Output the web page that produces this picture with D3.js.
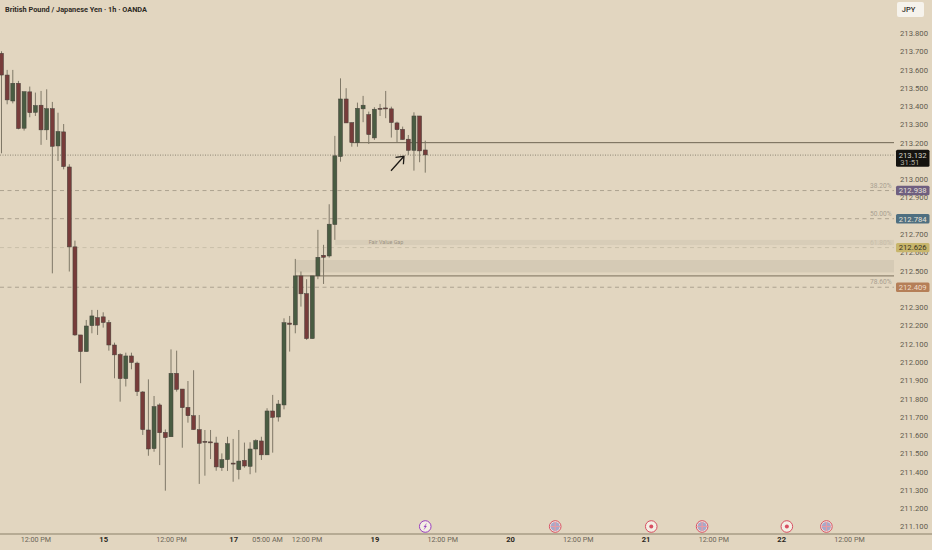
<!DOCTYPE html>
<html>
<head>
<meta charset="utf-8">
<script src="https://cdn.jsdelivr.net/npm/d3@7"></script>
<style>
html, body { margin: 0; padding: 0; background: #e2d6c0; overflow: hidden; }
text { font-family: Roboto, sans-serif; }
.axis .domain, .axis line { display: none; }
</style>
</head>
<body>
<svg id="vis"></svg>
<script>
var w = 932, h = 550;

// candles, 1h GBP/JPY
var opens = [213.689,213.570,213.428,213.525,213.279,213.478,213.366,213.405,213.270,213.386,213.182,213.259,213.067,212.630,212.148,212.057,212.199,212.243,212.247,212.216,212.093,212.041,211.909,212.033,211.994,211.836,211.628,211.526,211.765,211.615,211.591,211.938,211.852,211.752,211.706,211.630,211.566,211.563,211.557,211.422,211.466,211.447,211.411,211.462,211.429,211.524,211.568,211.492,211.732,211.699,211.765,212.213,212.203,212.471,212.374,212.128,212.471,212.584,212.580,212.752,213.124,213.439,213.310,213.200,213.385,213.354,213.226,213.388,213.390,213.385,213.308,213.273,213.219,213.158,213.346,213.160];
var highs = [213.700,213.598,213.598,213.538,213.479,213.507,213.474,213.483,213.492,213.423,213.364,213.302,213.082,212.664,212.148,212.230,212.285,212.285,212.272,212.230,212.106,212.048,212.051,212.051,212.002,211.841,211.905,211.814,211.774,211.631,212.069,212.062,211.852,211.896,211.955,211.710,211.628,211.628,211.591,211.500,211.591,211.579,211.628,211.559,211.561,211.577,211.591,211.747,211.820,211.792,212.239,212.252,212.564,212.495,212.453,212.471,212.723,212.641,212.863,213.237,213.552,213.498,213.310,213.419,213.456,213.370,213.394,213.412,213.483,213.397,213.315,213.288,213.242,213.366,213.346,213.211];
var lows = [213.142,213.410,213.415,213.273,213.266,213.339,213.346,213.188,213.215,212.485,213.100,213.054,212.495,212.143,211.884,212.057,212.157,212.148,212.188,212.062,211.911,211.783,211.866,211.960,211.814,211.601,211.487,211.509,211.436,211.296,211.591,211.838,211.531,211.668,211.630,211.333,211.378,211.469,211.405,211.404,211.404,211.345,211.358,211.422,211.386,211.395,211.464,211.492,211.504,211.674,211.741,212.057,212.157,212.303,212.121,212.128,212.453,212.427,212.571,212.668,213.096,213.308,213.178,213.178,213.312,213.193,213.215,213.346,213.334,213.228,213.200,213.217,213.133,213.047,213.093,213.036];
var closes = [213.570,213.434,213.525,213.277,213.479,213.364,213.403,213.270,213.386,213.180,213.261,213.069,212.630,212.148,212.057,212.197,212.252,212.201,212.216,212.093,212.039,211.909,212.033,211.997,211.838,211.630,211.524,211.756,211.613,211.586,211.938,211.850,211.750,211.706,211.630,211.555,211.563,211.559,211.426,211.466,211.553,211.444,211.458,211.431,211.524,211.570,211.492,211.732,211.697,211.770,212.215,212.206,212.471,212.373,212.128,212.471,212.573,212.573,212.754,213.128,213.439,213.308,213.200,213.388,213.405,213.244,213.383,213.383,213.388,213.310,213.271,213.217,213.158,213.346,213.155,213.133];

// price axis
var yTicks = [213.8,213.7,213.6,213.5,213.4,213.3,213.2,213.1,213.0,212.9,212.8,212.7,212.6,212.5,212.4,212.3,212.2,212.1,212.0,211.9,211.8,211.7,211.6,211.5,211.4,211.3,211.2,211.1];

// time axis, positions are bar numbers
var xTickBars = [6,18,30,41,47,54,66,78,90,102,114,126,138,150];
var xTickLabels = ["12:00 PM","15","12:00 PM","17","05:00 AM","12:00 PM","19","12:00 PM","20","12:00 PM","21","12:00 PM","22","12:00 PM"];

// fib levels
var fibPrices = [212.938,212.784,212.626,212.409];
var fibNames = ["38.20%","50.00%","61.80%","78.60%"];
var fibColors = ["#6f5f80","#4f6f80","#c8b66c","#b57f58"];
var fibTextColors = ["#e8e2d8","#e8e2d8","#3a3420","#f0dcc8"];
var fibNameOpacity = [1,1,0.35,1];

var lastPrice = 213.132;
var countdown = "31:51";
var keyLevel = 213.2, keyLevelBar = 62;
var zoneTop = 212.558, zoneBottom = 212.49, zoneBar = 52, zoneLine = 212.471;
var fvgTop = 212.668, fvgBottom = 212.64, fvgBar = 59;

// calendar events along the bottom
var eventBars = [75,98,115,124,139,146];
var eventKinds = ["bolt","uk","dot","uk","dot","uk"];

var x = d3.scaleLinear().domain([0,150]).range([1.5,849]);
var y = d3.scaleLinear().domain([213.8,211.1]).range([33,526.5]);
var plotRight = 894;
var barW = 4;

var svg = d3.select("#vis").attr("width", w).attr("height", h);
var up = function(i){ return closes[i] >= opens[i]; };
var bars = d3.range(opens.length);

// zones under the candles
svg.append("rect").attr("x", x(zoneBar)).attr("y", y(zoneTop))
    .attr("width", plotRight - x(zoneBar)).attr("height", y(zoneBottom) - y(zoneTop))
    .attr("fill", "#d5cab5");
svg.append("rect").attr("x", x(fvgBar)).attr("y", y(fvgTop))
    .attr("width", plotRight - x(fvgBar)).attr("height", y(fvgBottom) - y(fvgTop))
    .attr("fill", "#d8cdb8");
svg.append("text").attr("x", 386).attr("y", y(fvgTop) + 4.2)
    .attr("text-anchor", "middle").attr("font-size", 5.4).attr("fill", "#9c9384")
    .text("Fair Value Gap");

// fib lines
svg.selectAll("line.fib").data(fibPrices).enter().append("line")
    .attr("class", "fib")
    .attr("x1", 0).attr("x2", plotRight)
    .attr("y1", function(d){ return y(d); }).attr("y2", function(d){ return y(d); })
    .attr("stroke", "#ada390")
    .attr("stroke-opacity", function(d,i){ return i==2 ? 0.45 : 1; })
    .attr("stroke-width", 1)
    .attr("stroke-dasharray", "4 3.5");
svg.selectAll("text.fibname").data(fibPrices).enter().append("text")
    .attr("class", "fibname")
    .attr("x", 891.5)
    .attr("y", function(d){ return y(d) - 3; })
    .attr("text-anchor", "end").attr("font-size", 6.6).attr("fill", "#a89f90")
    .attr("fill-opacity", function(d,i){ return fibNameOpacity[i]; })
    .text(function(d,i){ return fibNames[i]; });

// current price, dotted
svg.append("line").attr("x1", 0).attr("x2", plotRight)
    .attr("y1", y(lastPrice)).attr("y2", y(lastPrice))
    .attr("stroke", "#8d8674").attr("stroke-width", 1).attr("stroke-dasharray", "1 1.5");

// key levels
svg.append("line").attr("x1", x(keyLevelBar)).attr("x2", plotRight)
    .attr("y1", y(keyLevel)).attr("y2", y(keyLevel))
    .attr("stroke", "#6f6554").attr("stroke-width", 1);
svg.append("line").attr("x1", x(zoneBar)).attr("x2", plotRight)
    .attr("y1", y(zoneLine)).attr("y2", y(zoneLine))
    .attr("stroke", "#7c705c").attr("stroke-width", 1);

// wicks and bodies
svg.selectAll("line.wick").data(bars).enter().append("line")
    .attr("class", "wick")
    .attr("x1", function(i){ return x(i); }).attr("x2", function(i){ return x(i); })
    .attr("y1", function(i){ return y(highs[i]); }).attr("y2", function(i){ return y(lows[i]); })
    .attr("stroke", "#7f7867").attr("stroke-width", 1);
svg.selectAll("rect.body").data(bars).enter().append("rect")
    .attr("class", "body")
    .attr("x", function(i){ return x(i) - barW/2; })
    .attr("width", barW)
    .attr("y", function(i){ return y(Math.max(opens[i], closes[i])); })
    .attr("height", function(i){ return Math.max(1, Math.abs(y(opens[i]) - y(closes[i]))); })
    .attr("fill", function(i){ return up(i) ? "#495c42" : "#773c3a"; })
    .attr("stroke", "#45413a").attr("stroke-width", 0.5);

// arrow drawn on the chart
svg.append("path").attr("d", "M391 170.7 L404 156.3 M395.5 157.3 L404 156.3 L403.4 164.3")
    .attr("fill", "none").attr("stroke", "#1d1a16").attr("stroke-width", 1.3);

// bottom axis
svg.append("line").attr("x1", 0).attr("x2", w).attr("y1", 534).attr("y2", 534)
    .attr("stroke", "#8a8068").attr("stroke-width", 1);
var xAxis = d3.axisBottom(x).tickValues(xTickBars)
    .tickSize(0).tickPadding(0)
    .tickFormat(function(d,i){ return xTickLabels[i]; });
var gx = svg.append("g").attr("class", "axis").attr("transform", "translate(0,537)").call(xAxis);
gx.selectAll("text")
    .attr("font-size", function(d,i){ return isNaN(xTickLabels[i]) ? 7.2 : 7.6; })
    .attr("font-weight", function(d,i){ return isNaN(xTickLabels[i]) ? 400 : 700; })
    .attr("fill", function(d,i){ return isNaN(xTickLabels[i]) ? "#6b6557" : "#2a2620"; })
    .attr("font-family", "Roboto, sans-serif");

// price axis
var yAxis = d3.axisRight(y).tickValues(yTicks).tickSize(0).tickPadding(0)
    .tickFormat(d3.format(".3f"));
var gy = svg.append("g").attr("class", "axis").attr("transform", "translate(900,0)").call(yAxis);
gy.selectAll("text").attr("font-size", 7.7).attr("fill", "#5f5a4e")
    .attr("font-family", "Roboto, sans-serif");

// price tags
var tags = svg.selectAll("g.tag").data(fibPrices).enter().append("g").attr("class", "tag")
    .attr("transform", function(d){ return "translate(896," + y(d) + ")"; });
tags.append("rect").attr("x", 0).attr("y", -4.7).attr("width", 33.5).attr("height", 9.4).attr("rx", 1.5)
    .attr("fill", function(d,i){ return fibColors[i]; });
tags.append("text").attr("x", 16.7).attr("y", 2.8).attr("text-anchor", "middle").attr("font-size", 7.7)
    .attr("fill", function(d,i){ return fibTextColors[i]; })
    .text(function(d){ return d.toFixed(3); });

var lastTag = svg.append("g").attr("transform", "translate(896," + y(lastPrice) + ")");
lastTag.append("rect").attr("x", 0).attr("y", -5.4).attr("width", 33.5).attr("height", 17).attr("rx", 1.5).attr("fill", "#15130f");
lastTag.append("text").attr("x", 16.7).attr("y", 2.6).attr("text-anchor", "middle").attr("font-size", 7.7)
    .attr("fill", "#d8d4ca").text(lastPrice.toFixed(3));
lastTag.append("text").attr("x", 4.3).attr("y", 9.6).attr("font-size", 7.7)
    .attr("fill", "#b0aca2").text(countdown);

// calendar icons
var ev = svg.selectAll("g.ev").data(eventBars).enter().append("g").attr("class", "ev")
    .attr("transform", function(d){ return "translate(" + x(d) + ",526.5)"; });
ev.append("circle").attr("r", 5.8).attr("fill", "#f4eee4")
    .attr("stroke", function(d,i){ return eventKinds[i]=="bolt" ? "#9a3fc0" : "#d84f62"; }).attr("stroke-width", 1);
ev.each(function(d,i){
    var g = d3.select(this);
    if(eventKinds[i]=="dot"){
        g.append("circle").attr("r", 2).attr("fill", "#d84f62");
    } else if(eventKinds[i]=="bolt"){
        g.append("path").attr("d", "M1.2 -3 L-1.4 0.5 L0.2 0.5 L-1.2 3 L1.4 -0.5 L-0.2 -0.5 Z")
            .attr("fill", "#9a3fc0").attr("stroke", "#9a3fc0").attr("stroke-width", 0.3);
    } else {
        g.append("circle").attr("r", 4.6).attr("fill", "#a9a8c8");
        g.append("path").attr("d", "M-4.6 0 H4.6 M0 -4.6 V4.6").attr("stroke", "#e89aa4").attr("stroke-width", 1.2);
    }
});

// header
svg.append("text").attr("x", 5).attr("y", 12).attr("font-size", 7.35).attr("font-weight", 700)
    .attr("fill", "#2f2b25").text("British Pound / Japanese Yen · 1h · OANDA");

// currency button
svg.append("rect").attr("x", 897).attr("y", 2).attr("width", 27).attr("height", 15).attr("rx", 2).attr("fill", "#f6f3ec");
svg.append("text").attr("x", 908.5).attr("y", 12.3).attr("text-anchor", "middle").attr("font-size", 7.5).attr("font-weight", 500)
    .attr("fill", "#2f2b25").text("JPY");
</script>
</body>
</html>
